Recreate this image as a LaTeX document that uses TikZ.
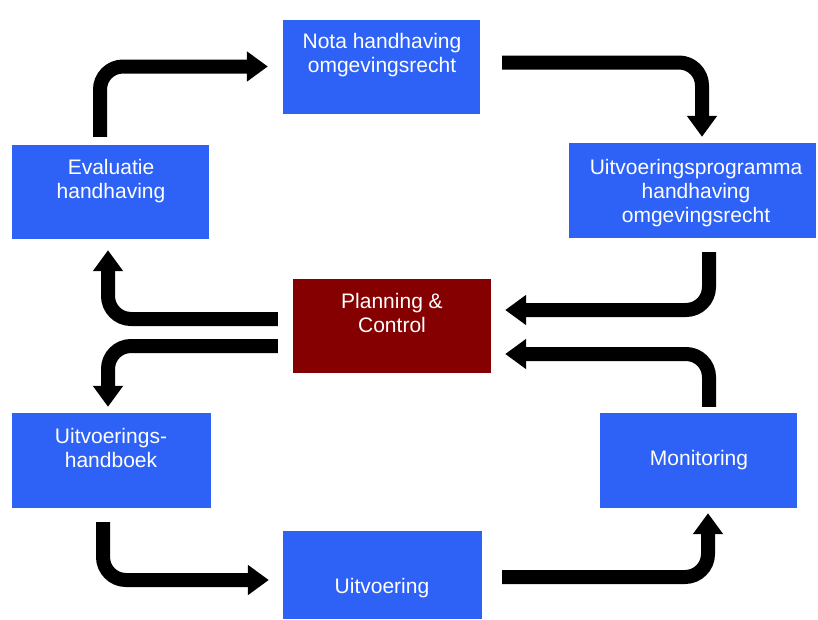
\documentclass[tikz,border=0pt]{standalone}
\usepackage{fontspec}
\setmainfont{Liberation Sans}
\usetikzlibrary{arrows.meta}
\definecolor{boxblue}{RGB}{46,98,246}
\definecolor{pcred}{RGB}{133,0,0}
\tikzset{
  box/.style={fill=boxblue, draw=none, minimum width=197pt, minimum height=94pt, inner sep=0pt},
  lbl/.style={text=white, align=center, inner sep=0pt, font=\fontsize{21}{24}\selectfont},
  flow/.style={draw=black, line width=14pt, rounded corners=23pt, -{Triangle[width=29pt,length=21pt]}}
}
\begin{document}
\begin{tikzpicture}[x=1pt,y=-1pt]
\useasboundingbox (0,0) rectangle (818,619);
% boxes
\node[box] (nota) at (381.5,66.5) {};
\node[box] (eval) at (110.5,192) {};
\node[box, minimum width=247pt, minimum height=95pt] (prog) at (692.5,190.5) {};
\node[box, fill=pcred, minimum width=198pt] (pc) at (392,326) {};
\node[box, minimum width=199pt, minimum height=95pt] (hb) at (111.5,460.5) {};
\node[box, minimum height=95pt] (mon) at (698.5,460.5) {};
\node[box, minimum width=199pt, minimum height=88pt] (uit) at (382.5,575) {};
% labels
\node[lbl] (notaT) at (382,55) {Nota handhaving\\omgevingsrecht};
\node[lbl] (evalT) at (111,181) {Evaluatie\\handhaving};
\node[lbl] (progT) at (696,193) {Uitvoeringsprogramma\\handhaving\\omgevingsrecht};
\node[lbl] (pcT) at (392,313) {Planning \&\\Control};
\node[lbl] (hbT) at (111,448) {Uitvoerings-\\handboek};
\node[lbl] (monT) at (699,460) {Monitoring};
\node[lbl] (uitT) at (382,588) {Uitvoering};
% connectors
\draw[flow] ([xshift=-10.5pt,yshift=8pt]eval.north) |- ([xshift=-15pt]nota.west);
\draw[flow] ([xshift=22pt,yshift=4pt]nota.east) -| ([xshift=9.5pt,yshift=6pt]prog.north);
\draw[flow] ([xshift=16.5pt,yshift=-14pt]prog.south) |- ([xshift=14pt,yshift=16pt]pc.east);
\draw[flow] ([xshift=10.5pt,yshift=6pt]mon.north) |- ([xshift=14pt,yshift=-28pt]pc.east);
\draw[flow] ([xshift=-15pt,yshift=7pt]pc.west) -| ([xshift=-2.5pt,yshift=-11pt]eval.south);
\draw[flow] ([xshift=-15pt,yshift=-20pt]pc.west) -| ([xshift=-3.5pt,yshift=6pt]hb.north);
\draw[flow] ([xshift=-8.5pt,yshift=-14pt]hb.south) |- ([xshift=-14pt,yshift=-5pt]uit.west);
\draw[flow] ([xshift=20pt,yshift=-2pt]uit.east) -| ([xshift=9.5pt,yshift=-5pt]mon.south);
\end{tikzpicture}
\end{document}
